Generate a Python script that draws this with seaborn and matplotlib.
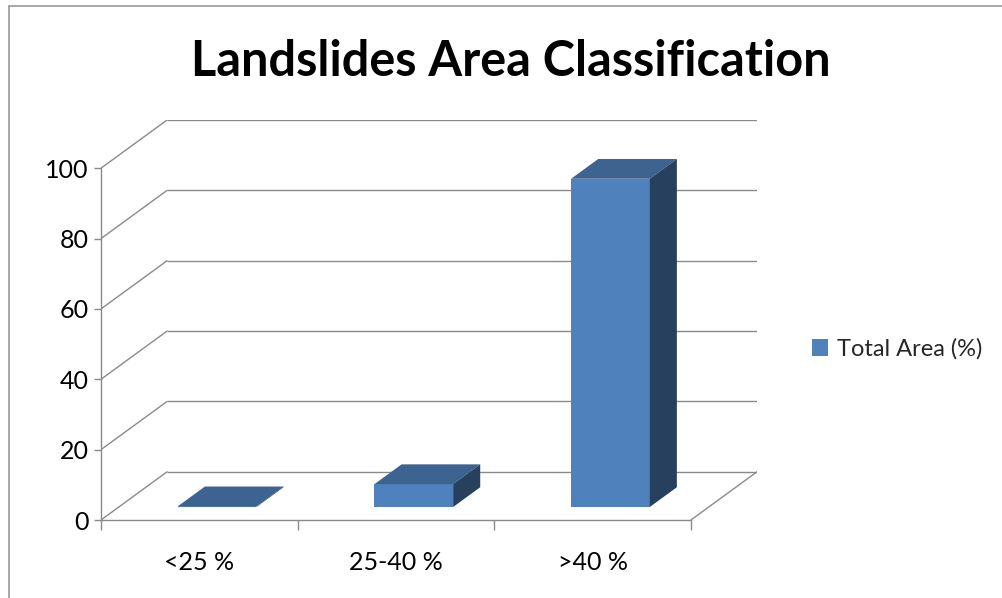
import matplotlib
matplotlib.use("Agg")
import matplotlib.pyplot as plt
from matplotlib.patches import Polygon, Rectangle
import seaborn as sns
import pandas as pd

# Data
categories = ["<25 %", "25-40 %", ">40 %"]
total_area = [0.2, 6.5, 93.3]
y_ticks = [0, 20, 40, 60, 80, 100]
series_name = "Total Area (%)"
title = "Landslides Area Classification"

sns.set_theme(style="white")
plt.rcParams["font.family"] = ["Lato", "DejaVu Sans"]

FRONT = "#4F81BD"
TOP = "#3D6390"
SIDE = "#27405E"
GRID = "#8A8A8A"

# Pseudo-3D geometry in data units
DEPTH_X = 0.336     # full floor depth, horizontal (category units)
DEPTH_Y = 13.7      # full floor depth, vertical (value units)
BAR_START = 0.27    # bar front face position as a fraction of floor depth
BAR_DEPTH = 0.41    # bar thickness as a fraction of floor depth
BAR_WIDTH = 0.40

fig = plt.figure(figsize=(10.03, 5.98), dpi=100)
W, H = 1003, 598
ax = fig.add_axes([101 / W, (H - 520) / H, 656 / W, 400 / H])
ax.patch.set_alpha(0)

df = pd.DataFrame({"category": categories, "value": total_area})
sns.barplot(data=df, x="category", y="value", color=FRONT, saturation=1,
            width=BAR_WIDTH, ax=ax, zorder=3, linewidth=0)
ax.set_xlim(-0.5, 2.5 + DEPTH_X)
ax.set_ylim(0, 100 + DEPTH_Y)

# Back wall and side wall gridlines
for v in y_ticks:
    ax.plot([-0.5 + DEPTH_X, 2.5 + DEPTH_X], [v + DEPTH_Y, v + DEPTH_Y],
            color=GRID, lw=1.0, zorder=1, solid_capstyle="butt")
    ax.plot([-0.5, -0.5 + DEPTH_X], [v, v + DEPTH_Y], color=GRID, lw=1.0, zorder=1)
# Right edge of the floor
ax.plot([2.5, 2.5 + DEPTH_X], [0, DEPTH_Y], color=GRID, lw=1.0, zorder=1)

# Extrude the bar fronts into boxes
ox, oy = BAR_START * DEPTH_X, BAR_START * DEPTH_Y
dx, dy = BAR_DEPTH * DEPTH_X, BAR_DEPTH * DEPTH_Y
for p in ax.patches:
    if not isinstance(p, Rectangle):
        continue
    p.set_x(p.get_x() + ox)
    p.set_y(p.get_y() + oy)
    x0, y0 = p.get_x(), p.get_y()
    x1, y1 = x0 + p.get_width(), y0 + p.get_height()
    top = Polygon([(x0, y1), (x1, y1), (x1 + dx, y1 + dy), (x0 + dx, y1 + dy)],
                  closed=True, facecolor=TOP, edgecolor="none", zorder=3)
    side = Polygon([(x1, y0), (x1, y1), (x1 + dx, y1 + dy), (x1 + dx, y0 + dy)],
                   closed=True, facecolor=SIDE, edgecolor="none", zorder=3)
    ax.add_patch(top)
    ax.add_patch(side)

# Axes
for s in ["top", "right"]:
    ax.spines[s].set_visible(False)
for s in ["left", "bottom"]:
    ax.spines[s].set_color(GRID)
    ax.spines[s].set_linewidth(1.0)
ax.spines["left"].set_bounds(0, 100)
ax.spines["bottom"].set_bounds(-0.5, 2.5)

ax.set_yticks(y_ticks)
ax.set_yticklabels([str(t) for t in y_ticks])
ax.tick_params(axis="y", which="major", left=True, length=5, width=1.0, color=GRID,
               pad=4, labelsize=18, labelcolor="black")

ax.set_xticks([-0.5, 0.5, 1.5, 2.5])
ax.set_xticklabels([])
ax.set_xticks([0, 1, 2], minor=True)
ax.set_xticklabels(categories, minor=True)
ax.tick_params(axis="x", which="major", bottom=True, length=7, width=1.0, color=GRID)
ax.tick_params(axis="x", which="minor", bottom=True, length=0, pad=22,
               labelsize=18, labelcolor="black")
ax.set_xlabel("")
ax.set_ylabel("")
ax.grid(False)

# Title
fig.text(511 / W, 1 - 62 / H, title, ha="center", va="center",
         fontsize=35, fontweight="bold", color="black")

# Legend
handle = Rectangle((0, 0), 1, 1, facecolor=FRONT, edgecolor="none")
fig.legend([handle], [series_name], loc="center left",
           bbox_to_anchor=(812 / W, 1 - 349 / H), frameon=False, borderpad=0,
           fontsize=17, handlelength=0.68, handleheight=0.68, handletextpad=0.4,
           borderaxespad=0)

# Chart area border
fig.add_artist(plt.Line2D([9 / W, 9 / W], [0, 1 - 6 / H], transform=fig.transFigure,
                          color="#9A9A9A", lw=1.2))
fig.add_artist(plt.Line2D([9 / W, 1], [1 - 6 / H, 1 - 6 / H], transform=fig.transFigure,
                          color="#9A9A9A", lw=1.2))

fig.savefig("out.png", dpi=100, facecolor="white")
